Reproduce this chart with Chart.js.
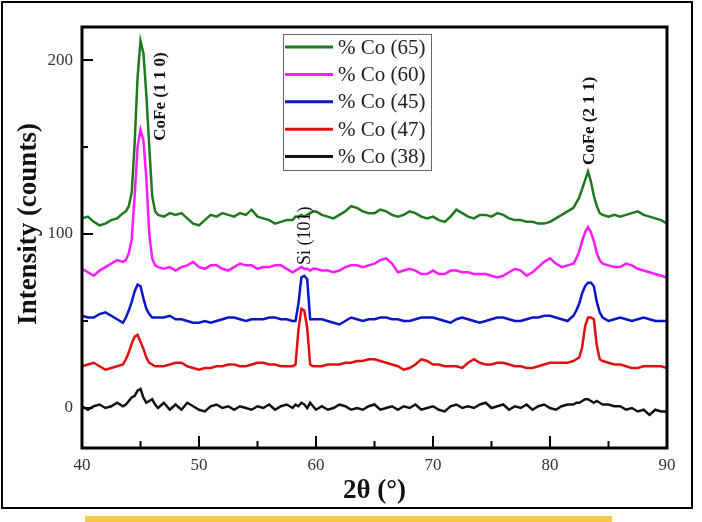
<!DOCTYPE html>
<html>
<head>
<meta charset="utf-8">
<script src="https://cdn.jsdelivr.net/npm/chart.js@4.4.1/dist/chart.umd.min.js"></script>
<style>
  body { margin: 0; background: #fff; }
  #wrap { position: relative; width: 702px; height: 522px; }
  #bar { position: absolute; left: 85px; top: 516px; width: 527px; height: 6px; background: #f8c84a; }
</style>
</head>
<body>
<div id="wrap">
  <canvas id="xrd" width="702" height="522"></canvas>
  <div id="bar"></div>
</div>
<script>
// 2-theta sample points (denser around the peaks)
const angles = [
  40, 40.5, 41, 41.5, 42, 42.5, 43, 43.5,
  43.75, 44, 44.25, 44.5, 44.75, 45, 45.25, 45.5, 45.75, 46, 46.25, 46.5,
  47, 47.5, 48, 48.5, 49, 49.5, 50, 50.5, 51, 51.5, 52, 52.5, 53, 53.5, 54, 54.5, 55, 55.5, 56, 56.5, 57, 57.5,
  58, 58.25, 58.5, 58.75, 59, 59.25, 59.5, 59.75, 60,
  60.5, 61, 61.5, 62, 62.5, 63, 63.5, 64, 64.5, 65, 65.5, 66, 66.5, 67, 67.5, 68, 68.5, 69, 69.5, 70, 70.5,
  71, 71.5, 72, 72.5, 73, 73.5, 74, 74.5, 75, 75.5, 76, 76.5, 77, 77.5, 78, 78.5, 79, 79.5, 80, 80.5, 81, 81.5,
  82, 82.25, 82.5, 82.75, 83, 83.25, 83.5, 83.75, 84, 84.25, 84.5,
  85, 85.5, 86, 86.5, 87, 87.5, 88, 88.5, 89, 89.5, 90
];

const co65 = [
  109, 110, 107, 105, 106, 108, 109, 112,
  113, 116, 124, 152, 190, 211, 204, 180, 150, 122, 113, 111,
  110, 112, 111, 112, 109, 106, 105, 108, 111, 110, 112, 111, 110, 112, 111, 114, 110, 109, 108, 106, 107, 108,
  108, 110, 110, 111, 110, 111, 112, 113, 113,
  111, 110, 109, 111, 113, 116, 115, 113, 112, 112, 114, 113, 111, 110, 111, 113, 112, 110, 109, 110, 108,
  107, 110, 114, 112, 110, 109, 111, 111, 110, 112, 111, 109, 108, 108, 107, 107, 106, 106, 107, 109, 111, 113,
  115, 118, 121, 126, 131, 136, 130, 122, 116, 112, 111,
  110, 111, 110, 111, 112, 113, 111, 110, 109, 108, 106
];

const co60 = [
  80, 78, 76, 79, 81, 83, 85, 84,
  85, 89, 97, 122, 150, 160, 154, 132, 100, 86, 82, 81,
  80, 81, 79, 81, 82, 84, 81, 80, 82, 82, 80, 79, 81, 83, 82, 82, 80, 81, 81, 82, 82, 80,
  78, 79, 80, 81, 80, 80, 79, 80, 80,
  79, 79, 78, 79, 81, 82, 82, 81, 82, 83, 85, 86, 83, 78, 79, 80, 79, 77, 77, 79, 77,
  77, 79, 79, 78, 78, 77, 77, 77, 76, 75, 76, 78, 80, 79, 76, 78, 81, 84, 86, 83, 81, 82,
  83, 86, 90, 96, 101, 104, 101, 96, 89, 85, 83,
  82, 81, 81, 83, 82, 80, 79, 78, 77, 76, 75
];

const co45 = [
  53, 52, 52, 54, 55, 53, 51, 49,
  52, 56, 61, 67, 71, 70, 63, 57, 54, 52, 52, 52,
  52, 53, 51, 51, 50, 49, 49, 50, 49, 50, 51, 52, 52, 51, 50, 51, 51, 51, 52, 52, 51, 51,
  50, 50, 60, 75, 76, 74, 51, 51, 51,
  51, 50, 49, 48, 50, 52, 51, 50, 51, 51, 52, 52, 51, 51, 50, 50, 51, 52, 52, 52, 51,
  50, 49, 51, 52, 51, 50, 49, 50, 51, 52, 52, 51, 50, 50, 51, 52, 52, 53, 53, 52, 51, 50,
  53, 56, 60, 66, 70, 72, 72, 70, 61, 55, 52,
  50, 51, 52, 51, 50, 51, 52, 51, 50, 50, 50
];

const co47 = [
  24, 25, 26, 24, 22, 23, 24, 25,
  28, 32, 37, 41, 42, 38, 34, 29, 26, 25, 24, 24,
  24, 25, 26, 26, 24, 23, 22, 23, 23, 24, 24, 25, 25, 24, 24, 25, 26, 26, 25, 25, 24, 24,
  24, 25, 45, 57, 56, 46, 25, 24, 24,
  24, 25, 25, 25, 26, 26, 27, 27, 28, 28, 27, 26, 25, 24, 22, 23, 25, 28, 27, 25, 25,
  24, 24, 24, 23, 26, 28, 26, 25, 25, 26, 26, 25, 24, 24, 23, 23, 24, 25, 26, 26, 26, 26,
  27, 28, 29, 35, 47, 52, 52, 51, 36, 28, 27,
  26, 25, 25, 24, 23, 23, 24, 24, 24, 24, 23
];

const co38 = [
  1, -1, 1, 2, 0, 1, 3, 1,
  2, 4, 6, 7, 10, 11, 6, 3, 4, 5, 2, 0,
  3, -1, 2, -1, 3, 1, -1, -2, 1, 2, 0, 1, -1, 1, 0, -1, 1, 0, 2, -1, 1, 2,
  0, 2, 1, 3, 2, 0, 3, 1, -1,
  1, -1, 0, 2, 1, -1, 0, -1, 1, 2, -1, 0, 1, -1, 1, 0, 2, -1, 0, 1, -1,
  -2, 1, 2, 0, 1, 0, 2, 3, 0, 1, 2, -1, 1, 0, 2, -1, 1, 2, 0, -1, 1, 2,
  2, 3, 3, 4, 5, 5, 4, 3, 4, 3, 2,
  2, 1, 1, -1, 0, -2, -1, -4, -1, -2, -2
];

const seriesNames = ["% Co (65)", "% Co (60)", "% Co (45)", "% Co (47)", "% Co (38)"];
const seriesColors = ["#1f7a1f", "#ff1aff", "#0a14c8", "#e01010", "#111111"];
const seriesValues = [co65, co60, co45, co47, co38];

const xTicks = [40, 50, 60, 70, 80, 90];
const yTicks = [0, 100, 200];

// peak labels: text, 2-theta, intensity at the text centre
const peakLabels = [
  { text: "CoFe (1 1 0)", x: 46.7, y: 179, bold: true },
  { text: "Si (101)", x: 59.1, y: 99, bold: false },
  { text: "CoFe (2 1 1)", x: 83.4, y: 165, bold: true }
];

const serif = "'Liberation Serif', 'Times New Roman', serif";
Chart.defaults.font.family = serif;
Chart.defaults.color = "#222";

const datasets = seriesNames.map((name, i) => ({
  label: name,
  data: angles.map((a, j) => ({ x: a, y: seriesValues[i][j] })),
  borderColor: seriesColors[i],
  borderWidth: 2.5,
  pointRadius: 0,
  tension: 0,
  fill: false
}));

function line(ctx, x1, y1, x2, y2) {
  ctx.beginPath();
  ctx.moveTo(x1, y1);
  ctx.lineTo(x2, y2);
  ctx.stroke();
}

const decorations = {
  id: "decorations",
  afterDatasetsDraw(chart) {
    const { ctx, chartArea: a, scales: { x, y } } = chart;
    ctx.save();

    // outer figure border
    ctx.strokeStyle = "#000";
    ctx.lineWidth = 2;
    ctx.strokeRect(2, 2, 690, 506);

    // plot frame
    ctx.lineWidth = 3;
    ctx.strokeRect(a.left, a.top, a.right - a.left, a.bottom - a.top);

    // inward ticks
    ctx.lineWidth = 2;
    for (let v = 45; v < 90; v += 5) {
      const px = x.getPixelForValue(v);
      line(ctx, px, a.bottom, px, a.bottom - (v % 10 === 0 ? 12 : 7));
    }
    for (let v = 0; v <= 200; v += 50) {
      const py = y.getPixelForValue(v);
      line(ctx, a.left, py, a.left + (v % 100 === 0 ? 11 : 6), py);
    }

    // y title
    ctx.fillStyle = "#111";
    ctx.font = "bold 27px " + serif;
    ctx.textAlign = "center";
    ctx.textBaseline = "middle";
    ctx.save();
    ctx.translate(29, 224);
    ctx.rotate(-Math.PI / 2);
    ctx.fillText("Intensity (counts)", 0, 0);
    ctx.restore();

    // peak labels
    peakLabels.forEach(p => {
      ctx.save();
      ctx.translate(x.getPixelForValue(p.x), y.getPixelForValue(p.y));
      ctx.rotate(-Math.PI / 2);
      ctx.font = (p.bold ? "bold 17px " : "18px ") + serif;
      ctx.fillText(p.text, 0, 0);
      ctx.restore();
    });

    // legend box
    const lx = 283, ly = 34, lw = 148, lh = 136;
    ctx.fillStyle = "#fff";
    ctx.fillRect(lx, ly, lw, lh);
    ctx.strokeStyle = "#666";
    ctx.lineWidth = 1;
    ctx.strokeRect(lx + 0.5, ly + 0.5, lw, lh);
    ctx.font = "21px " + serif;
    ctx.textAlign = "left";
    chart.data.datasets.forEach((ds, i) => {
      const ry = ly + 13 + i * 27.4;
      ctx.strokeStyle = ds.borderColor;
      ctx.lineWidth = 3;
      line(ctx, lx + 2, ry, lx + 50, ry);
      ctx.fillStyle = "#222";
      ctx.fillText(ds.label, lx + 55, ry + 1);
    });

    ctx.restore();
  }
};

new Chart(document.getElementById("xrd"), {
  type: "line",
  data: { datasets },
  plugins: [decorations],
  options: {
    responsive: false,
    animation: false,
    layout: { padding: { top: 27, right: 35, left: 0, bottom: 0 } },
    plugins: { legend: { display: false }, tooltip: { enabled: false } },
    scales: {
      x: {
        type: "linear",
        min: 40,
        max: 90,
        afterBuildTicks: s => { s.ticks = xTicks.map(v => ({ value: v })); },
        afterFit: s => { s.height = 74; },
        grid: { display: false, drawTicks: false },
        border: { display: false },
        ticks: { padding: 7, color: "#333", font: { size: 17 } },
        title: {
          display: true,
          text: "2θ (°)",
          color: "#111",
          font: { size: 27, weight: "bold" },
          padding: { top: 0, bottom: 15 }
        }
      },
      y: {
        min: -23,
        max: 219,
        afterBuildTicks: s => { s.ticks = yTicks.map(v => ({ value: v })); },
        afterFit: s => { s.width = 82; },
        grid: { display: false, drawTicks: false },
        border: { display: false },
        ticks: { padding: 9, color: "#333", font: { size: 17 } }
      }
    }
  }
});
</script>
</body>
</html>
